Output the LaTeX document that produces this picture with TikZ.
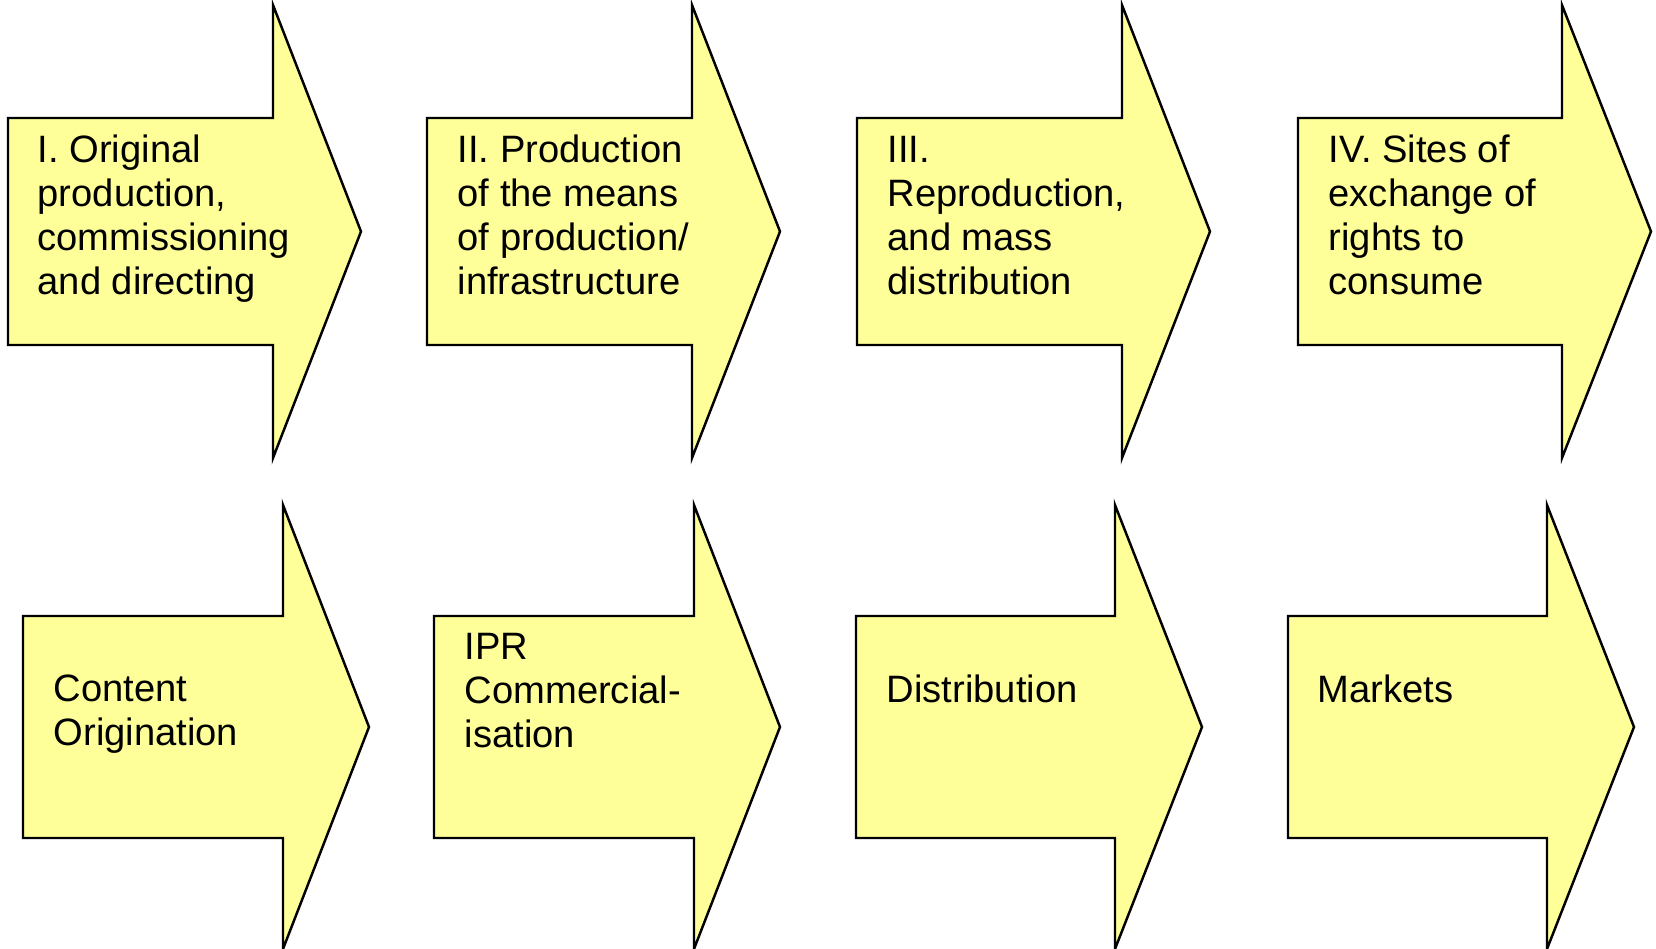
\documentclass[tikz,border=0pt]{standalone}
\usepackage{fontspec}
\setmainfont{Liberation Sans}
\definecolor{arrowfill}{RGB}{255,255,153}
\begin{document}
\begin{tikzpicture}[x=0.01cm,y=-0.01cm,
  bigarrow/.style={draw=black,fill=arrowfill,line width=0.7pt,line join=miter},
  lbl/.style={anchor=base west,inner sep=0pt,font=\fontsize{10.85}{12.45}\selectfont}]
\useasboundingbox (0,0) rectangle (1656,949);
% arrow drawing macro: left, head base, tip, head top, body top, mid, body bottom, head bottom
\newcommand{\chainarrow}[8]{%
  \path[bigarrow] (#1,#5) -- (#2,#5) -- (#2,#4) -- (#3,#6) -- (#2,#8) -- (#2,#7) -- (#1,#7) -- cycle;}
% top row
\chainarrow{8}{273}{361}{5}{118}{231.5}{345}{458}
\chainarrow{427}{692}{780}{5}{118}{231.5}{345}{458}
\chainarrow{857}{1122}{1210}{5}{118}{231.5}{345}{458}
\chainarrow{1298}{1562}{1651}{5}{118}{231.5}{345}{458}
% bottom row
\chainarrow{23}{283}{369}{505}{616}{727}{838}{949}
\chainarrow{434}{694}{780}{505}{616}{727}{838}{949}
\chainarrow{856}{1115}{1202}{505}{616}{727}{838}{949}
\chainarrow{1288}{1547}{1634}{505}{616}{727}{838}{949}
% labels
\node[lbl] (t1) at (37,163) {\begin{tabular}[t]{@{}l@{}}I. Original\\production,\\commissioning\\and directing\end{tabular}};
\node[lbl] (t2) at (457,163) {\begin{tabular}[t]{@{}l@{}}II. Production\\of the means\\of production/\\infrastructure\end{tabular}};
\node[lbl] (t3) at (887,163) {\begin{tabular}[t]{@{}l@{}}III.\\Reproduction,\\and mass\\distribution\end{tabular}};
\node[lbl] (t4) at (1328,163) {\begin{tabular}[t]{@{}l@{}}IV. Sites of\\exchange of\\rights to\\consume\end{tabular}};
\node[lbl] (t5) at (53,702) {\begin{tabular}[t]{@{}l@{}}Content\\Origination\end{tabular}};
\node[lbl] (t6) at (464,660) {\begin{tabular}[t]{@{}l@{}}IPR\\Commercial-\\isation\end{tabular}};
\node[lbl] (t7) at (886,703) {\begin{tabular}[t]{@{}l@{}}Distribution\end{tabular}};
\node[lbl] (t8) at (1317,703) {\begin{tabular}[t]{@{}l@{}}Markets\end{tabular}};
\end{tikzpicture}
\end{document}
